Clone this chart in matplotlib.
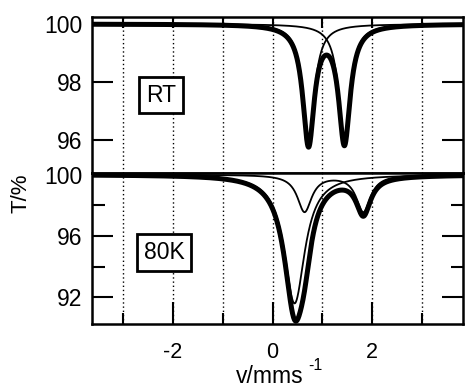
import numpy as np
import matplotlib
matplotlib.use("Agg")
import matplotlib.pyplot as plt

plt.rcParams['font.family'] = ['Liberation Sans', 'DejaVu Sans']
plt.rcParams['axes.unicode_minus'] = False

# Lorentzian fit components: centre (mm/s), depth (%), FWHM (mm/s)
rt_centers = [0.72, 1.44]
rt_depths = [4.1, 4.05]
rt_widths = [0.28, 0.28]

k80_centers = [0.44, 0.64, 1.82]
k80_depths = [8.4, 2.4, 2.4]
k80_widths = [0.50, 0.35, 0.35]
k80_groups = [[0], [1, 2]]   # component A: single line, component B: doublet

x_ticks_labelled = [-2, 0, 2]
x_ticks_minor = [-3, -1, 1, 3]
rt_yticks = [96, 98, 100]
k80_yticks = [92, 96, 100]
k80_yminor = [94, 98]

v = np.linspace(-3.62, 3.82, 1500)


def lor(c, d, w):
    return d / (1 + (2 * (v - c) / w) ** 2)


fig = plt.figure(figsize=(4.65, 3.88), dpi=100)
ax1 = fig.add_axes([0.198, 0.554, 0.798, 0.402])
ax2 = fig.add_axes([0.198, 0.165, 0.798, 0.389])

fs = 16.5
dots = (0, (1, 2))

# --- RT panel ---
rt_parts = [lor(c, d, w) for c, d, w in zip(rt_centers, rt_depths, rt_widths)]
ax1.plot(v, 100 - sum(rt_parts), color='black', lw=3.6, solid_capstyle='round')
for p in rt_parts:
    ax1.plot(v, 100 - p, color='black', lw=1.3)
ax1.set_xlim(-3.62, 3.82)
ax1.set_ylim(94.86, 100.24)
ax1.set_yticks(rt_yticks)
ax1.set_xticks(x_ticks_labelled + x_ticks_minor)
ax1.tick_params(axis='x', direction='in', top=True, bottom=False, labelbottom=False, length=8, width=1.5)
ax1.tick_params(axis='y', direction='in', left=True, right=True, length=15, width=1.5, labelsize=fs, pad=7)
ax1.grid(axis='x', color='black', linestyle=dots, lw=1)
ax1.text(-2.24, 97.55, 'RT', fontsize=fs, ha='center', va='center',
         bbox=dict(boxstyle='square,pad=0.3', fc='white', ec='black', lw=2))

# --- 80 K panel ---
k80_parts = [lor(c, d, w) for c, d, w in zip(k80_centers, k80_depths, k80_widths)]
ax2.plot(v, 100 - sum(k80_parts), color='black', lw=3.6, solid_capstyle='round')
for g in k80_groups:
    ax2.plot(v, 100 - sum(k80_parts[i] for i in g), color='black', lw=1.3)
ax2.set_xlim(-3.62, 3.82)
ax2.set_ylim(90.26, 100.1)
ax2.set_xticks(x_ticks_labelled)
ax2.set_xticks(x_ticks_minor, minor=True)
ax2.set_yticks(k80_yticks)
ax2.set_yticks(k80_yminor, minor=True)
ax2.tick_params(axis='x', which='major', direction='in', length=16, width=1.5, labelsize=15.5, pad=13)
ax2.tick_params(axis='x', which='minor', direction='in', length=8, width=1.5)
ax2.tick_params(axis='y', which='major', direction='in', left=True, right=True, length=15, width=1.5,
                labelsize=fs, pad=7)
ax2.tick_params(axis='y', which='minor', direction='in', left=True, right=True, length=9, width=1.5)
ax2.grid(axis='x', which='both', color='black', linestyle=dots, lw=1)
ax2.text(-2.18, 94.9, '80K', fontsize=fs, ha='center', va='center',
         bbox=dict(boxstyle='square,pad=0.3', fc='white', ec='black', lw=2))

for ax in (ax1, ax2):
    for s in ax.spines.values():
        s.set_linewidth(1.8)

# axis titles
fig.text(270 / 465, 5 / 388, 'v/mms', fontsize=16.5, ha='center', va='baseline')
fig.text(308 / 465, 1 - 365 / 388, '-1', fontsize=11.5, ha='left', va='center')
fig.text(21 / 465, 1 - 193 / 388, 'T/%', fontsize=16, rotation=90, ha='center', va='center')

fig.savefig('out.png', dpi=100)
